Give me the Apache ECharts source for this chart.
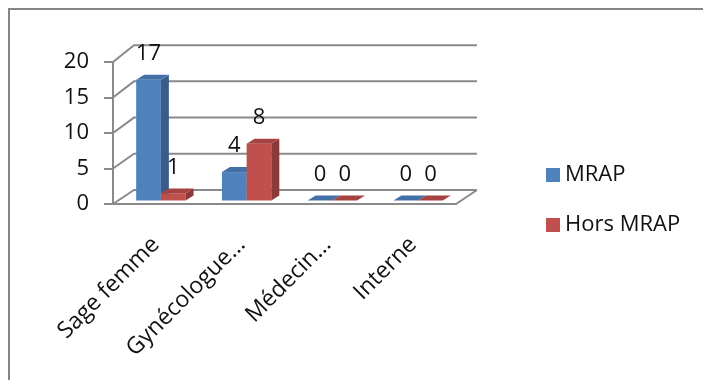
<!DOCTYPE html>
<html>
<head>
<meta charset="utf-8">
<script src="https://cdn.jsdelivr.net/npm/echarts@6/dist/echarts.min.js"></script>
<style>
  html, body { margin: 0; padding: 0; background: #fff; }
  #chart { width: 703px; height: 380px; }
</style>
</head>
<body>
<div id="chart"></div>
<script>
// Categories and series values
const categories = ['Sage femme', 'Gynécologue...', 'Médecin...', 'Interne'];
const mrap = [17, 4, 0, 0];
const horsMrap = [1, 8, 0, 0];
const yTicks = [0, 5, 10, 15, 20];
const seriesNames = ['MRAP', 'Hors MRAP'];

const FONT = '"Open Sans", sans-serif';
const TEXT_COLOR = '#111';
const GRID_COLOR = '#8a8a8a';

// Oblique 3D box: depth offset of the back wall relative to the front plane
const DEPTH_X = 21, DEPTH_Y = -14, PERSP = 1.02;
// Bars stand at mid depth, and have their own small depth
const MID_X = 5, MID_Y = -3.5, BAR_DX = 8, BAR_DY = -5;

const palettes = [
  { front: '#4F81BD', side: '#385D8A', top: '#4470A8' },
  { front: '#C0504D', side: '#8C3A38', top: '#A6423F' }
];

// Back wall, left wall and floor lines at each value tick
function wallRender(params, api) {
  const v = api.value(1);
  const band = api.size([1, 0])[0];
  const base = api.coord([0, 0]);
  const p = api.coord([0, v]);
  const left = p[0] - band / 2;
  const right = left + band * categories.length;
  const backY = base[1] + DEPTH_Y + (p[1] - base[1]) * PERSP;
  const lineStyle = { stroke: GRID_COLOR, lineWidth: 2, fill: null };
  const children = [{
    type: 'polyline',
    shape: { points: [[left, p[1]], [left + DEPTH_X, backY], [right + DEPTH_X, backY]] },
    style: lineStyle
  }];
  if (v === 0) {
    children.push({
      type: 'line',
      shape: { x1: right, y1: p[1], x2: right + DEPTH_X, y2: backY },
      style: lineStyle
    });
  }
  return { type: 'group', children };
}

// Prism-like bar: front face, right side face, top face and value label
function makeBarRender(sIdx) {
  const pal = palettes[sIdx];
  return function (params, api) {
    const idx = api.value(0);
    const v = api.value(1);
    const band = api.size([1, 0])[0];
    const c0 = api.coord([idx, 0]);
    const c = api.coord([idx, v]);
    const w = band * 0.288;
    const mid = c0[0] + MID_X;
    const x0 = sIdx === 0 ? mid - w : mid;
    const x1 = x0 + w;
    const yb = c0[1] + MID_Y;
    const yt = c[1] + MID_Y;
    const children = [];
    if (yb - yt > 0.5) {
      children.push({
        type: 'rect',
        shape: { x: x0, y: yt, width: w, height: yb - yt },
        style: { fill: pal.front }
      });
      children.push({
        type: 'polygon',
        shape: { points: [[x1, yt], [x1 + BAR_DX, yt + BAR_DY], [x1 + BAR_DX, yb + BAR_DY], [x1, yb]] },
        style: { fill: pal.side }
      });
    }
    children.push({
      type: 'polygon',
      shape: { points: [[x0, yt], [x1, yt], [x1 + BAR_DX, yt + BAR_DY], [x0 + BAR_DX, yt + BAR_DY]] },
      style: { fill: pal.top }
    });
    children.push({
      type: 'text',
      style: {
        text: String(v),
        x: (x0 + x1) / 2,
        y: yt - 26,
        align: 'center',
        verticalAlign: 'middle',
        fontFamily: FONT,
        fontSize: 22,
        fill: TEXT_COLOR
      }
    });
    return { type: 'group', children };
  };
}

const chart = echarts.init(document.getElementById('chart'), null, { renderer: 'canvas' });
chart.setOption({
  animation: false,
  backgroundColor: '#fff',
  graphic: [{
    type: 'rect',
    shape: { x: 9, y: 9, width: 800, height: 500 },
    style: { fill: null, stroke: '#858585', lineWidth: 2 },
    z: 100
  }],
  grid: { left: 113, top: 62, width: 343, height: 142 },
  legend: {
    data: seriesNames,
    orient: 'vertical',
    left: 541,
    top: 159,
    icon: 'rect',
    itemWidth: 14,
    itemHeight: 14,
    itemGap: 28,
    textStyle: { fontFamily: FONT, fontSize: 22, lineHeight: 22, color: TEXT_COLOR }
  },
  xAxis: {
    type: 'category',
    data: categories,
    axisLine: { lineStyle: { color: GRID_COLOR, width: 2 } },
    axisTick: { length: 9, lineStyle: { color: GRID_COLOR, width: 2 } },
    axisLabel: {
      interval: 0,
      rotate: 45,
      margin: 37,
      fontFamily: FONT,
      fontSize: 23,
      color: TEXT_COLOR
    }
  },
  yAxis: {
    type: 'value',
    min: 0,
    max: 20,
    interval: 5,
    axisLine: { show: true, lineStyle: { color: GRID_COLOR, width: 2 } },
    axisTick: { show: true, length: 9, lineStyle: { color: GRID_COLOR, width: 2 } },
    splitLine: { show: false },
    axisLabel: { margin: 24, fontFamily: FONT, fontSize: 22, color: TEXT_COLOR }
  },
  series: [
    {
      type: 'custom',
      silent: true,
      z: 1,
      renderItem: wallRender,
      data: yTicks.map(v => [0, v]),
      encode: { x: 0, y: 1 }
    },
    {
      name: seriesNames[0],
      type: 'custom',
      z: 2,
      itemStyle: { color: palettes[0].front },
      renderItem: makeBarRender(0),
      data: mrap.map((v, i) => [i, v]),
      encode: { x: 0, y: 1 }
    },
    {
      name: seriesNames[1],
      type: 'custom',
      z: 3,
      itemStyle: { color: palettes[1].front },
      renderItem: makeBarRender(1),
      data: horsMrap.map((v, i) => [i, v]),
      encode: { x: 0, y: 1 }
    }
  ]
});
</script>
</body>
</html>
